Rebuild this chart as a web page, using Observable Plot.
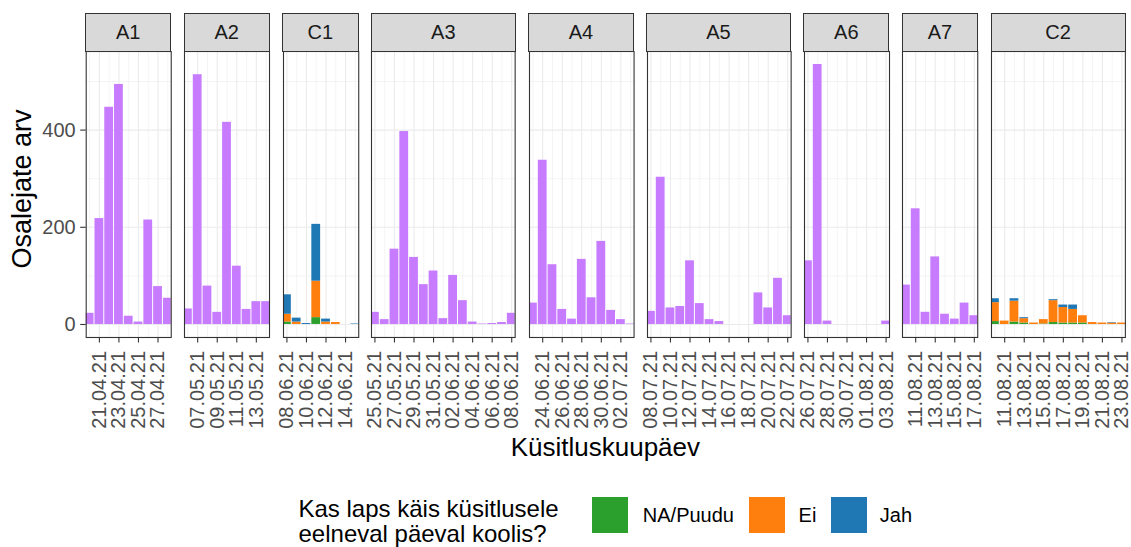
<!DOCTYPE html>
<html><head><meta charset="utf-8">
<script src="https://cdn.jsdelivr.net/npm/d3@7"></script>
<script src="https://cdn.jsdelivr.net/npm/@observablehq/plot@0.6"></script>
<style>
body{margin:0;background:#fff;}
#chart{position:relative;width:1131px;height:547px;font-family:"Liberation Sans",Arial,sans-serif;overflow:hidden;background:#fff;}
.strip{position:absolute;box-sizing:border-box;background:#D9D9D9;border:1.1px solid #333;color:#1A1A1A;font-size:20px;display:flex;align-items:center;justify-content:center;}
.abs{position:absolute;white-space:nowrap;}
svg{overflow:visible}
</style></head><body><div id="chart"></div>
<script>
// ---------- data ----------
const facetNames = ["A1","A2","C1","A3","A4","A5","A6","A7","C2"];

const daysA1 = ["20.04.21","21.04.21","22.04.21","23.04.21","24.04.21","25.04.21","26.04.21","27.04.21","28.04.21"];
const valuesA1 = [23, 218, 447, 494, 17, 5, 215, 78, 54];
const ticksA1 = ["21.04.21","23.04.21","25.04.21","27.04.21"];

const daysA2 = ["06.05.21","07.05.21","08.05.21","09.05.21","10.05.21","11.05.21","12.05.21","13.05.21","14.05.21"];
const valuesA2 = [32, 514, 79, 25, 416, 120, 31, 47, 47];
const ticksA2 = ["07.05.21","09.05.21","11.05.21","13.05.21"];

const daysC1 = ["08.06.21","09.06.21","10.06.21","11.06.21","12.06.21","13.06.21","14.06.21","15.06.21"];
const naC1  = [5, 0, 0, 14, 0, 0, 0, 0];
const eiC1  = [16, 5, 0, 75, 5, 4, 0, 0];
const jahC1 = [40, 8, 2, 117, 6, 0, 0, 1];
const ticksC1 = ["08.06.21","10.06.21","12.06.21","14.06.21"];

const daysA3 = ["25.05.21","26.05.21","27.05.21","28.05.21","29.05.21","30.05.21","31.05.21","01.06.21","02.06.21","03.06.21","04.06.21","05.06.21","06.06.21","07.06.21","08.06.21"];
const valuesA3 = [25, 10, 155, 397, 138, 82, 110, 12, 101, 49, 5, 1, 2, 4, 23];
const ticksA3 = ["25.05.21","27.05.21","29.05.21","31.05.21","02.06.21","04.06.21","06.06.21","08.06.21"];

const daysA4 = ["23.06.21","24.06.21","25.06.21","26.06.21","27.06.21","28.06.21","29.06.21","30.06.21","01.07.21","02.07.21","03.07.21"];
const valuesA4 = [44, 338, 123, 31, 11, 134, 55, 171, 29, 10, 1];
const ticksA4 = ["24.06.21","26.06.21","28.06.21","30.06.21","02.07.21"];

const daysA5 = ["08.07.21","09.07.21","10.07.21","11.07.21","12.07.21","13.07.21","14.07.21","15.07.21","16.07.21","17.07.21","18.07.21","19.07.21","20.07.21","21.07.21","22.07.21"];
const valuesA5 = [27, 303, 34, 37, 131, 43, 10, 6, 0, 0, 0, 65, 34, 95, 18];
const ticksA5 = ["08.07.21","10.07.21","12.07.21","14.07.21","16.07.21","18.07.21","20.07.21","22.07.21"];

const daysA6 = ["26.07.21","27.07.21","28.07.21","29.07.21","30.07.21","31.07.21","01.08.21","02.08.21","03.08.21"];
const valuesA6 = [131, 535, 7, 0, 0, 0, 0, 0, 7];
const ticksA6 = ["26.07.21","28.07.21","30.07.21","01.08.21","03.08.21"];

const daysA7 = ["10.08.21","11.08.21","12.08.21","13.08.21","14.08.21","15.08.21","16.08.21","17.08.21"];
const valuesA7 = [81, 238, 25, 139, 21, 11, 44, 18];
const ticksA7 = ["11.08.21","13.08.21","15.08.21","17.08.21"];

const daysC2 = ["10.08.21","11.08.21","12.08.21","13.08.21","14.08.21","15.08.21","16.08.21","17.08.21","18.08.21","19.08.21","20.08.21","21.08.21","22.08.21","23.08.21"];
const naC2  = [6, 0, 5, 3, 0, 1, 4, 3, 3, 3, 0, 0, 0, 0];
const eiC2  = [39, 7, 43, 9, 3, 9, 45, 32, 28, 15, 4, 3, 3, 3];
const jahC2 = [8, 0, 5, 2, 0, 0, 2, 5, 9, 0, 0, 0, 1, 0];
const ticksC2 = ["11.08.21","13.08.21","15.08.21","17.08.21","19.08.21","21.08.21","23.08.21"];

const seriesKeys = ["A", "NA/Puudu", "Ei", "Jah"];
const seriesColors = ["#C77CFF", "#2CA02C", "#FF7F0E", "#1F77B4"];
const legendKeys = ["NA/Puudu", "Ei", "Jah"];
const legendTitle = ["Kas laps käis küsitlusele", "eelneval päeval koolis?"];
const yTicks = [0, 200, 400];
const yMinor = [100, 300, 500];
const xTitle = "Küsitluskuupäev";
const yTitle = "Osalejate arv";

// ---------- build ----------
const DAY = 864e5;
const parse = s => { const [d, m, y] = s.split(".").map(Number); return new Date(Date.UTC(2000 + y, m - 1, d)); };

const panels = [
  {name: facetNames[0], days: daysA1, ticks: ticksA1, series: [["A", valuesA1]]},
  {name: facetNames[1], days: daysA2, ticks: ticksA2, series: [["A", valuesA2]]},
  {name: facetNames[2], days: daysC1, ticks: ticksC1, series: [["NA/Puudu", naC1], ["Ei", eiC1], ["Jah", jahC1]]},
  {name: facetNames[3], days: daysA3, ticks: ticksA3, series: [["A", valuesA3]]},
  {name: facetNames[4], days: daysA4, ticks: ticksA4, series: [["A", valuesA4]]},
  {name: facetNames[5], days: daysA5, ticks: ticksA5, series: [["A", valuesA5]]},
  {name: facetNames[6], days: daysA6, ticks: ticksA6, series: [["A", valuesA6]]},
  {name: facetNames[7], days: daysA7, ticks: ticksA7, series: [["A", valuesA7]]},
  {name: facetNames[8], days: daysC2, ticks: ticksC2, series: [["NA/Puudu", naC2], ["Ei", eiC2], ["Jah", jahC2]]}
];

let yMax = 0;
panels.forEach(p => {
  p.rows = [];
  p.days.forEach((d, i) => {
    const date = parse(d);
    let tot = 0;
    p.series.forEach(([key, vals]) => {
      tot += vals[i];
      p.rows.push({date, x1: new Date(+date - 0.45 * DAY), x2: new Date(+date + 0.45 * DAY), key, value: vals[i]});
    });
    yMax = Math.max(yMax, tot);
  });
});
const yPad = yMax * 0.05;

const chart = document.getElementById("chart");
const X0 = 85.7, XEND = 1125, GAP = 13.5;
const PT = 51, PH = 286;
const totalUnits = d3.sum(panels, p => p.days.length - 0.3);
const unit = (XEND - X0 - GAP * (panels.length - 1)) / totalUnits;

let left = X0;
panels.forEach((p, i) => {
  const w = (p.days.length - 0.3) * unit;
  const ml = i === 0 ? left : 14, mr = 14;
  const first = parse(p.days[0]), last = parse(p.days[p.days.length - 1]);
  const tickSet = new Set(p.ticks);
  const labelOf = new Map(p.ticks.map(t => [+parse(t), t]));
  const marks = [
    Plot.ruleY(yMinor, {stroke: "#EBEBEB", strokeWidth: 0.55}),
    Plot.ruleY(yTicks, {stroke: "#EBEBEB", strokeWidth: 1.1}),
    Plot.ruleX(p.days.filter(d => !tickSet.has(d)), {x: parse, stroke: "#EBEBEB", strokeWidth: 0.55}),
    Plot.ruleX(p.ticks, {x: parse, stroke: "#EBEBEB", strokeWidth: 1.1}),
    Plot.rectY(p.rows, Plot.stackY({x: "date", x1: "x1", x2: "x2", y: "value", fill: "key", clip: true})),
    Plot.frame({stroke: "#333333", strokeWidth: 1.1}),
    Plot.axisX(p.ticks.map(parse), {tickFormat: d => labelOf.get(+d), tickRotate: -90, tickSize: 5.5, tickPadding: 8, fontSize: 20, color: "#4D4D4D", stroke: "#333333", strokeWidth: 1.1, label: null})
  ];
  if (i === 0) marks.push(Plot.axisY(yTicks, {tickSize: 5.5, tickPadding: 5, fontSize: 20, color: "#4D4D4D", stroke: "#333333", strokeWidth: 1.1, label: null}));
  const plot = Plot.plot({
    width: w + ml + mr, height: PT + PH + 95,
    marginLeft: ml, marginRight: mr, marginTop: PT, marginBottom: 95,
    x: {type: "utc", domain: [new Date(+first - 0.35 * DAY), new Date(+last + 0.35 * DAY)], axis: null, label: null},
    y: {domain: [-yPad, yMax + yPad], axis: null, label: null},
    color: {domain: seriesKeys, range: seriesColors},
    style: {fontFamily: "Liberation Sans, Arial, sans-serif", fontSize: "20px", background: "transparent", overflow: "visible"},
    marks
  });
  plot.style.position = "absolute";
  plot.style.left = (left - ml) + "px";
  plot.style.top = "0px";
  chart.appendChild(plot);

  const strip = document.createElement("div");
  strip.className = "strip";
  strip.style.left = (left - 0.55) + "px";
  strip.style.top = "13px";
  strip.style.width = (w + 1.1) + "px";
  strip.style.height = (PT - 13 + 0.55) + "px";
  strip.textContent = p.name;
  chart.appendChild(strip);

  left += w + GAP;
});

// axis titles
const yt = document.createElement("div");
yt.className = "abs";
yt.style.cssText += "left:22px;top:189px;transform:translate(-50%,-50%) rotate(-90deg);font-size:27px;color:#000;";
yt.textContent = yTitle;
chart.appendChild(yt);

const xt = document.createElement("div");
xt.className = "abs";
xt.style.cssText += `left:${(X0 + XEND) / 2}px;top:447px;transform:translate(-50%,-50%);font-size:26px;color:#000;`;
xt.textContent = xTitle;
chart.appendChild(xt);

// legend title: two separate lines
legendTitle.forEach((line, j) => {
  const lt = document.createElement("div");
  lt.className = "abs";
  lt.style.cssText += `left:298.5px;top:${497 + j * 25}px;font-size:24px;line-height:24px;height:24px;color:#000;`;
  lt.textContent = line;
  chart.appendChild(lt);
});

const keyX = [592.3, 748.5, 830.6];
const labX = [642.8, 798.6, 879.8];
legendKeys.forEach((k, i) => {
  const sw = document.createElement("div");
  sw.className = "abs";
  sw.style.cssText += `left:${keyX[i]}px;top:496.7px;width:36px;height:36px;background:${seriesColors[seriesKeys.indexOf(k)]};`;
  chart.appendChild(sw);
  const tx = document.createElement("div");
  tx.className = "abs";
  tx.style.cssText += `left:${labX[i]}px;top:514.7px;transform:translateY(-50%);font-size:20px;color:#000;`;
  tx.textContent = k;
  chart.appendChild(tx);
});
</script></body></html>
